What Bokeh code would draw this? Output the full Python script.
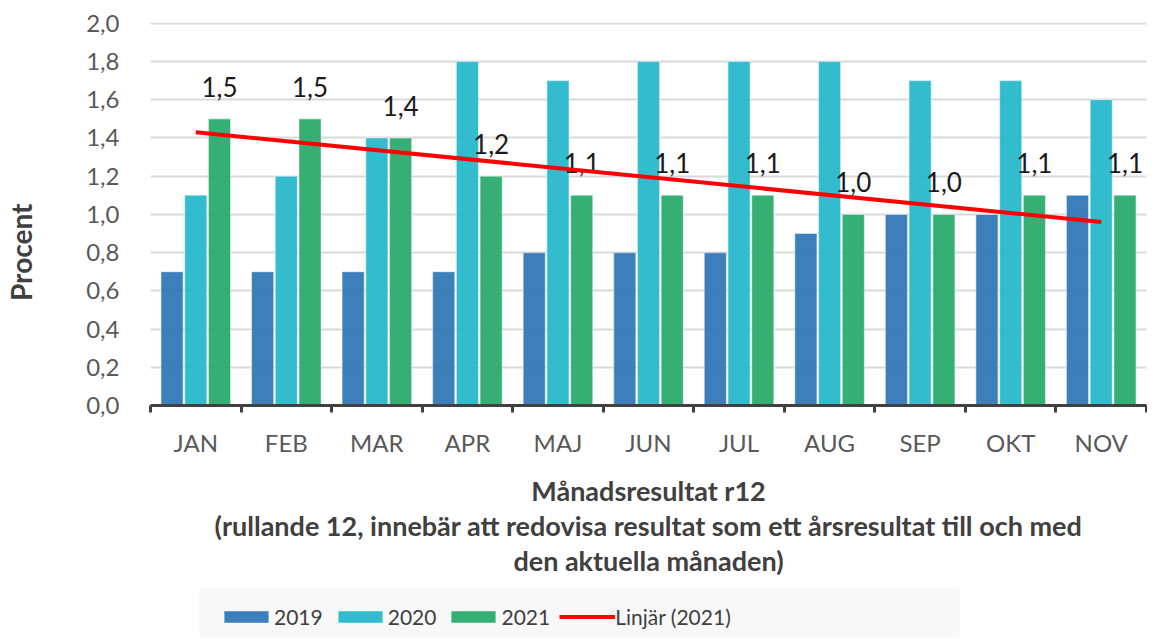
import math
from bokeh.plotting import figure
from bokeh.models import (Range1d, FixedTicker, Legend, LegendItem, ColumnDataSource,
                          BoxAnnotation, Label)
from bokeh.layouts import column, row
from bokeh.transform import dodge
from bokeh.core.properties import value
from bokeh.embed import file_html
from bokeh.resources import INLINE

months = ["JAN", "FEB", "MAR", "APR", "MAJ", "JUN", "JUL", "AUG", "SEP", "OKT", "NOV"]
v2019 = [0.7, 0.7, 0.7, 0.7, 0.8, 0.8, 0.8, 0.9, 1.0, 1.0, 1.1]
v2020 = [1.1, 1.2, 1.4, 1.8, 1.7, 1.8, 1.8, 1.8, 1.7, 1.7, 1.6]
v2021 = [1.5, 1.5, 1.4, 1.2, 1.1, 1.1, 1.1, 1.0, 1.0, 1.1, 1.1]
trend_months = ["JAN", "NOV"]
trend_2021 = [1.43, 0.96]
y_ticks = [0.0, 0.2, 0.4, 0.6, 0.8, 1.0, 1.2, 1.4, 1.6, 1.8, 2.0]
y_tick_labels = ["0,0", "0,2", "0,4", "0,6", "0,8", "1,0", "1,2", "1,4", "1,6", "1,8", "2,0"]
x_title = ("Månadsresultat r12\n"
           "(rullande 12, innebär att redovisa resultat som ett årsresultat till och med\n"
           "den aktuella månaden)")
y_title = "Procent"
legend_labels = ["2019", "2020", "2021", "Linjär (2021)"]

FONT = "Lato"
C2019, C2020, C2021, CTREND = "#2E75B6", "#24B7C9", "#27A96B", "#FF0000"

pos = [i + 0.5 for i in range(len(months))]
src = ColumnDataSource(dict(x=pos, months=months, v2019=v2019, v2020=v2020, v2021=v2021,
                            lab=[f"{v:.1f}".replace(".", ",") for v in v2021]))

LW = 47                  # width of the strip holding the y title
W = 1100                 # main figure width
BL, BR = 103, 1          # borders of main figure
BT, BB = 22, 176
H = BT + 383 + BB

p = figure(width=W, height=H, output_backend="svg", toolbar_location=None,
           x_range=Range1d(0, len(months)), y_range=Range1d(0, 2.004),
           min_border_left=BL, min_border_right=BR, min_border_top=BT,
           min_border_bottom=BB)
p.outline_line_color = None
p.background_fill_color = "white"

w = 0.245
bar_style = dict(fill_alpha=0.93, line_color="white", line_alpha=0.45, line_width=1.2)
for col, off, c in [("v2019", -0.262, C2019), ("v2020", 0.0, C2020), ("v2021", 0.262, C2021)]:
    p.vbar(x=dodge("x", off), top=col, width=w, source=src, fill_color=c, **bar_style)

p.text(x=dodge("x", 0.262), y="v2021", text="lab", source=src, text_align="center",
       text_baseline="middle", y_offset=-32, text_font=value(FONT), text_font_size="26px",
       text_color="#1a1a1a")

tx = [months.index(m) + 0.5 for m in trend_months]
p.line(x=tx, y=trend_2021, line_color=CTREND, line_width=4)

# grid
p.xgrid.visible = False
p.ygrid.ticker = FixedTicker(ticks=y_ticks[1:])
p.ygrid.grid_line_color = "#D9D9D9"
p.ygrid.grid_line_width = 2

# y axis
ya = p.yaxis[0]
ya.ticker = FixedTicker(ticks=y_ticks)
ya.major_label_overrides = {t: l for t, l in zip(y_ticks, y_tick_labels)}
ya.axis_line_color = None
ya.major_tick_line_color = None
ya.minor_tick_line_color = None
ya.major_label_standoff = 25
ya.major_label_text_font = FONT
ya.major_label_text_font_size = "24px"
ya.major_label_text_color = "#595959"

# x axis
xa = p.xaxis[0]
xa.ticker = FixedTicker(ticks=pos, minor_ticks=list(range(len(months) + 1)))
xa.major_label_overrides = {t: m for t, m in zip(pos, months)}
xa.axis_line_color = "#404040"
xa.axis_line_width = 3
xa.major_tick_line_color = None
xa.major_tick_out = 0
xa.minor_tick_line_color = "#404040"
xa.minor_tick_line_width = 3
xa.minor_tick_out = 7
xa.minor_tick_in = 0
xa.major_label_standoff = 15
xa.major_label_text_font = FONT
xa.major_label_text_font_size = "24px"
xa.major_label_text_color = "#595959"
xa.axis_label = x_title
xa.axis_label_text_font = FONT
xa.axis_label_text_font_style = "bold"
xa.axis_label_text_font_size = "27px"
xa.axis_label_text_color = "#404040"
xa.axis_label_text_line_height = 1.065
xa.axis_label_standoff = 14

# strip on the left for the y-axis title (placed lower than centre, as in the source)
pl = figure(width=LW, height=H, output_backend="svg", toolbar_location=None,
            x_range=Range1d(0, 1), y_range=Range1d(0, 1),
            min_border_left=0, min_border_right=0, min_border_top=BT, min_border_bottom=BB)
pl.axis.visible = False
pl.grid.visible = False
pl.outline_line_color = None
pl.add_layout(Label(x=0.43, y=0.40, text=y_title, angle=math.pi / 2, text_align="center",
                    text_baseline="middle", text_font=FONT, text_font_style="bold",
                    text_font_size="28px", text_color="#404040"))

# legend strip (separate figure so it can sit below the axis title)
LH = 56
lg = figure(width=W, height=LH, output_backend="svg", toolbar_location=None,
            x_range=Range1d(0, W - BL - BR), y_range=Range1d(0, LH),
            min_border_left=BL, min_border_right=BR, min_border_top=0, min_border_bottom=0)
lg.axis.visible = False
lg.grid.visible = False
lg.outline_line_color = None
lg.background_fill_color = "white"
lg.border_fill_color = "white"
lg.add_layout(BoxAnnotation(left=49, right=809, bottom=0, top=LH - 7, fill_color="#F8F8F8",
                            fill_alpha=1, line_color=None, level="underlay"))
# zero-size proxy glyphs, used only as legend keys
rs = []
for c in [C2019, C2020, C2021]:
    rs.append(lg.vbar(x=[0], top=[0], width=0, fill_color=c, **bar_style))
rs.append(lg.line(x=[0, 0], y=[0, 0], line_color=CTREND, line_width=4))

legend = Legend(items=[LegendItem(label=l, renderers=[r]) for l, r in zip(legend_labels, rs)],
                orientation="horizontal", location=(68, 8))
legend.glyph_width = 56
legend.glyph_height = 15
legend.label_standoff = 0
legend.spacing = 9
legend.padding = 8
legend.margin = 0
legend.label_text_font = FONT
legend.label_text_font_size = "21px"
legend.label_text_color = "#404040"
legend.background_fill_alpha = 0
legend.border_line_color = None
lg.add_layout(legend, "center")

layout = row(pl, column(p, lg, spacing=0), spacing=0)
open("out.html", "w").write(file_html(layout, INLINE))
